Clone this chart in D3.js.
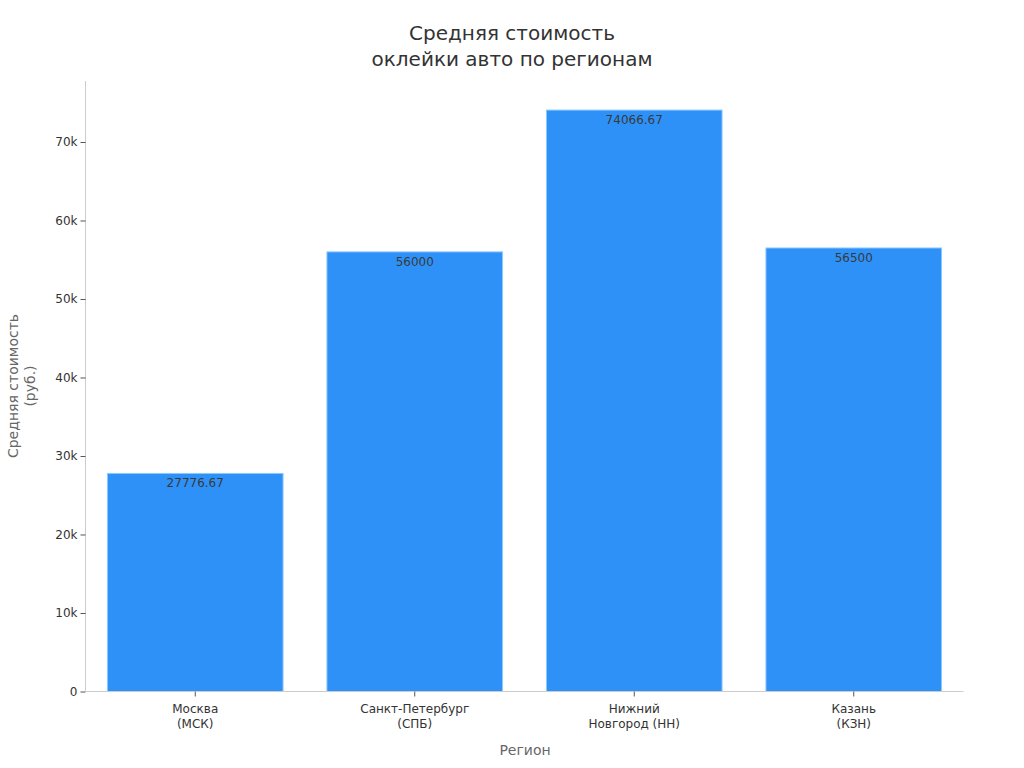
<!DOCTYPE html>
<html><head><meta charset="utf-8">
<script src="https://cdn.jsdelivr.net/npm/d3@7"></script>
<style>body{margin:0;background:#fff;font-family:"DejaVu Sans",sans-serif;}</style>
</head><body><svg id="c" width="1024" height="768"></svg>
<script>
const categories = [["Москва","(МСК)"],["Санкт-Петербург","(СПБ)"],["Нижний","Новгород (НН)"],["Казань","(КЗН)"]];
const values = [27776.67, 56000, 74066.67, 56500];
const valueLabels = ["27776.67","56000","74066.67","56500"];
const yTicks = [0,10000,20000,30000,40000,50000,60000,70000];

const svg = d3.select("#c");
const m = {l:85.5, r:963.5, t:81, b:691.5};
const x = d3.scaleBand().domain(d3.range(categories.length)).range([m.l,m.r]).paddingInner(0.2).paddingOuter(0.1);
const y = d3.scaleLinear().domain([0, d3.max(values)*1.05]).range([m.b,m.t]);

// title
svg.append("text").attr("x",512).attr("y",40).attr("text-anchor","middle").attr("font-size",20).attr("fill","#333").text("Средняя стоимость");
svg.append("text").attr("x",512).attr("y",66).attr("text-anchor","middle").attr("font-size",20).attr("fill","#333").text("оклейки авто по регионам");

// bars
svg.selectAll("rect.bar").data(values).enter().append("rect")
  .attr("x",(d,i)=>x(i)).attr("width",x.bandwidth())
  .attr("y",d=>y(d)).attr("height",d=>y(0)-y(d))
  .attr("fill","#2e91f8").attr("stroke","#8cc8ff").attr("stroke-width",1);

svg.selectAll("text.val").data(values).enter().append("text")
  .attr("x",(d,i)=>x(i)+x.bandwidth()/2).attr("y",d=>y(d)+14)
  .attr("text-anchor","middle").attr("font-size",12).attr("fill","#3a3a3a")
  .text((d,i)=>valueLabels[i]);

// y axis
const ya = svg.append("g").attr("transform",`translate(${m.l},0)`)
  .call(d3.axisLeft(y).tickValues(yTicks).tickSize(5).tickPadding(3).tickFormat(d=>d===0?"0":(d/1000)+"k"));
ya.select(".domain").attr("stroke","#ccc").attr("d",`M0,${m.b}V${m.t}`);
ya.selectAll(".tick line").attr("stroke","#555");
ya.selectAll(".tick text").attr("font-size",12).attr("fill","#333").attr("font-family","DejaVu Sans");

// x axis
const xa = svg.append("g").attr("transform",`translate(0,${m.b})`)
  .call(d3.axisBottom(x).tickSize(5).tickFormat(""));
xa.select(".domain").attr("stroke","#ccc").attr("d",`M${m.l},0H${m.r}`);
xa.selectAll(".tick line").attr("stroke","#555");
xa.selectAll(".tick").each(function(d){
  const t = d3.select(this).append("text").attr("fill","#333").attr("font-size",12).attr("text-anchor","middle").attr("font-family","DejaVu Sans");
  categories[d].forEach((s,j)=>t.append("tspan").attr("x",0).attr("y",21+j*15).text(s));
});

// axis titles
svg.append("text").attr("x",525).attr("y",755).attr("text-anchor","middle").attr("font-size",14).attr("fill","#666").text("Регион");
const yt = svg.append("text").attr("transform","translate(18,386) rotate(-90)").attr("text-anchor","middle").attr("font-size",14).attr("fill","#666");
yt.append("tspan").attr("x",0).attr("y",0).text("Средняя стоимость");
yt.append("tspan").attr("x",0).attr("y",17).text("(руб.)");
</script></body></html>
